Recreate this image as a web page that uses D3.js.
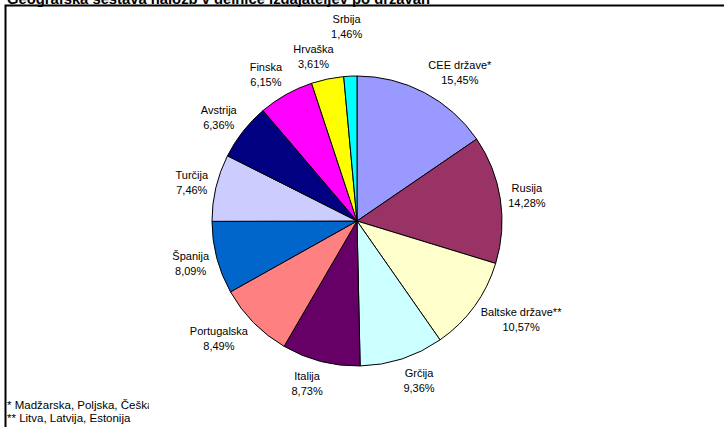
<!DOCTYPE html>
<html>
<head>
<meta charset="utf-8">
<script src="https://cdn.jsdelivr.net/npm/d3@7"></script>
<style>
  body { margin: 0; background: #fff; }
  text { font-family: "Liberation Sans", Arial, sans-serif; fill: #000; }
</style>
</head>
<body>
<script>
// Data
const categories = ["CEE države*", "Rusija", "Baltske države**", "Grčija", "Italija", "Portugalska",
                    "Španija", "Turčija", "Avstrija", "Finska", "Hrvaška", "Srbija"];
const shares = [15.45, 14.28, 10.57, 9.36, 8.73, 8.49, 8.09, 7.46, 6.36, 6.15, 3.61, 1.46];
const sliceColors = ["#9999FF", "#993366", "#FFFFCC", "#CCFFFF", "#660066", "#FF8080",
                     "#0066CC", "#CCCCFF", "#000080", "#FF00FF", "#FFFF00", "#00FFFF"];
const titleText = "Geografska sestava naložb v delnice izdajateljev po državah";
const footnotes = ["* Madžarska, Poljska, Češka", "** Litva, Latvija, Estonija"];

// --- SVG Setup ---
const width = 724, height = 427;
const cx = 357, cy = 221, radius = 145;

const svg = d3.select("body").append("svg")
    .attr("width", width)
    .attr("height", height);

// chart frame (only top and left edges fall inside the picture)
svg.append("path")
    .attr("d", "M5.5,440V5.5H740")
    .attr("fill", "none")
    .attr("stroke", "#000")
    .attr("stroke-width", 2);

// Title (cut off at the top, as in the original)
svg.append("text")
    .attr("x", 7)
    .attr("y", 3.5)
    .attr("textLength", 423)
    .attr("lengthAdjust", "spacingAndGlyphs")
    .style("font-weight", "bold")
    .style("font-size", "14.5px")
    .text(titleText);

const color = d3.scaleOrdinal().domain(categories).range(sliceColors);

const pie = d3.pie().sort(null).value(d => d.value);
const arcs = pie(categories.map((c, i) => ({ name: c, value: shares[i] })));
const arc = d3.arc().innerRadius(0).outerRadius(radius);

const chart = svg.append("g").attr("transform", `translate(${cx},${cy})`);

chart.selectAll("path.slice")
    .data(arcs)
    .enter().append("path")
    .attr("class", "slice")
    .attr("d", arc)
    .attr("fill", d => color(d.data.name))
    .attr("stroke", "#000")
    .attr("stroke-width", 1);

// Labels placed outside the end of each slice, pushed out when they collide
const fmt = v => d3.format(".2f")(v).replace(".", ",") + "%";
const gap = 8, boxH = 30, lineH = 15;
const placed = [];
const clamp = v => Math.max(-1, Math.min(1, v));

arcs.forEach(d => {
    const a = (d.startAngle + d.endAngle) / 2;
    const s = Math.sin(a), c = Math.cos(a);
    const t = chart.append("text").attr("text-anchor", "middle").style("font-size", "11px");
    const t1 = t.append("tspan").text(d.data.name);
    const t2 = t.append("tspan").text(fmt(d.data.value));
    const w = Math.max(t1.node().getComputedTextLength(), t2.node().getComputedTextLength());

    const boxAt = rr => {
        const px = rr * s, py = -rr * c;
        return { x: px + clamp(s * 3) * w / 2, y: py - c * boxH / 2, w: w, h: boxH };
    };
    const hits = b => placed.some(p =>
        Math.abs(p.x - b.x) < (p.w + b.w) / 2 && Math.abs(p.y - b.y) < (p.h + b.h) / 2);

    let rr = radius + gap;
    let b = boxAt(rr);
    while (hits(b) && rr < radius + 120) { rr += 1; b = boxAt(rr); }
    placed.push(b);

    t1.attr("x", b.x).attr("y", b.y - lineH / 2 + 4);
    t2.attr("x", b.x).attr("y", b.y + lineH / 2 + 4);
});

// Footnotes, clipped like the original text box
svg.append("clipPath").attr("id", "noteClip")
    .append("rect").attr("x", 0).attr("y", 380).attr("width", 149).attr("height", 47);

svg.append("g").attr("clip-path", "url(#noteClip)")
    .selectAll("text")
    .data(footnotes)
    .enter().append("text")
    .attr("x", 7)
    .attr("y", (d, i) => 409 + i * 13)
    .style("font-size", "11.5px")
    .text(d => d);
</script>
</body>
</html>
